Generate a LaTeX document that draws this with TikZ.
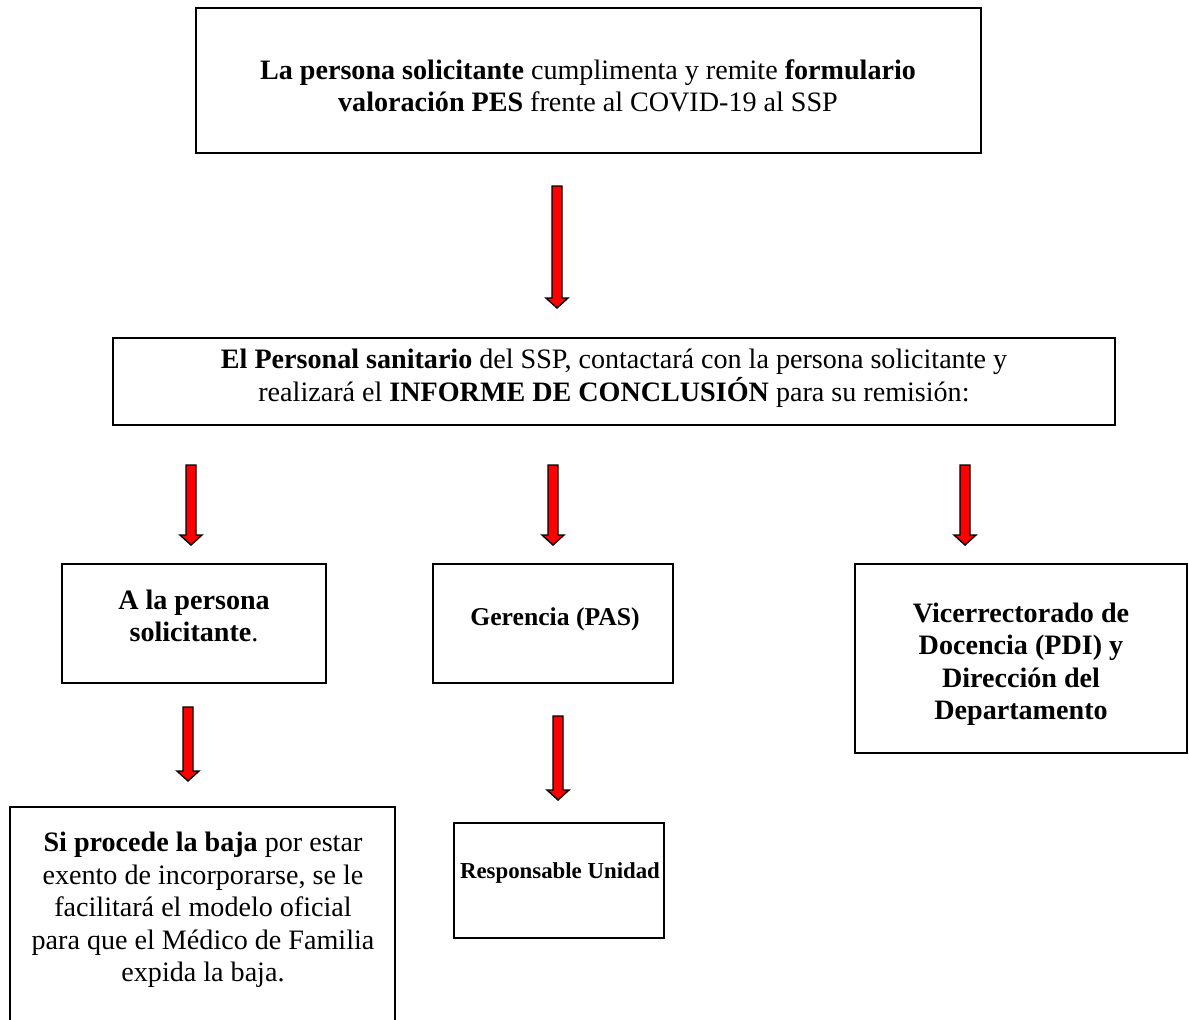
\documentclass[tikz,border=0pt]{standalone}
\usepackage{fontspec}
\setmainfont{Liberation Serif}
\usetikzlibrary{calc}

\newcommand{\blockarrow}[2]{%
  \filldraw[redblock] ($(#1)+(-5,0)$) -- ($(#2)+(-5,-10)$) -- ($(#2)+(-11,-10)$) -- (#2)
    -- ($(#2)+(11,-10)$) -- ($(#2)+(5,-10)$) -- ($(#1)+(5,0)$) -- cycle;}

\begin{document}
\begin{tikzpicture}[x=0.02cm, y=-0.02cm,
    box/.style={draw, line width=0.9pt, inner sep=0pt},
    txt/.style={align=center, inner sep=0pt, font=\fontsize{16}{18.5}\selectfont},
    redblock/.style={fill=red, draw=black, line width=0.8pt, line join=miter}]
			\useasboundingbox (0,0) rectangle (1189,1019);
			% cajas
			\node[box, minimum width=15.70cm, minimum height=2.90cm] (solicitud) at (588.5,80.5) {};
			\node[box, minimum width=20.04cm, minimum height=1.74cm] (informe) at (614,381.5) {};
			\node[box, minimum width=5.28cm, minimum height=2.38cm] (persona) at (194,623.5) {};
			\node[box, minimum width=4.80cm, minimum height=2.38cm] (gerencia) at (553,623.5) {};
			\node[box, minimum width=6.64cm, minimum height=3.78cm] (vicerr) at (1021,658.5) {};
			\node[box, minimum width=7.70cm, minimum height=4.40cm] (baja) at (202.5,917) {};
			\node[box, minimum width=4.20cm, minimum height=2.30cm] (unidad) at (559,880.5) {};
			% textos
			\node[txt] (solicitudtxt) at (588,86) {\textbf{La persona solicitante} cumplimenta y remite \textbf{formulario}\\ \textbf{valoración PES} frente al COVID-19 al SSP};
			\node[txt] (informetxt) at (614,378) {\textbf{El Personal sanitario} del SSP, contactará con la persona solicitante y\\ realizará el \textbf{INFORME DE CONCLUSIÓN} para su remisión:};
			\node[txt] (personatxt) at (194,616) {\textbf{A la persona}\\ \textbf{solicitante}.};
			\node[txt, font=\fontsize{14.6}{18.5}\selectfont] (gerenciatxt) at (555,619) {\textbf{Gerencia (PAS)}};
			\node[txt] (vicerrtxt) at (1021,664) {\textbf{Vicerrectorado de}\\ \textbf{Docencia (PDI) y}\\ \textbf{Dirección del}\\ \textbf{Departamento}};
			\node[txt] (bajatxt) at (203,910) {\textbf{Si procede la baja} por estar\\ exento de incorporarse, se le\\ facilitará el modelo oficial\\ para que el Médico de Familia\\ expida la baja.};
			\node[txt, font=\fontsize{13}{18.5}\selectfont] (unidadtxt) at (560,873) {\textbf{Responsable Unidad}};
			% flechas
			\coordinate (f1a) at (557,186);  \coordinate (f1b) at (557,308);
			\coordinate (f2a) at (191,465);  \coordinate (f2b) at (191,545);
			\coordinate (f3a) at (553,465);  \coordinate (f3b) at (553,545);
			\coordinate (f4a) at (965,465);  \coordinate (f4b) at (965,545);
			\coordinate (f5a) at (188,707);  \coordinate (f5b) at (188,781);
			\coordinate (f6a) at (558,716);  \coordinate (f6b) at (558,800);
			\blockarrow{f1a}{f1b}
			\blockarrow{f2a}{f2b}
			\blockarrow{f3a}{f3b}
			\blockarrow{f4a}{f4b}
			\blockarrow{f5a}{f5b}
			\blockarrow{f6a}{f6b}
		\end{tikzpicture}
\end{document}
